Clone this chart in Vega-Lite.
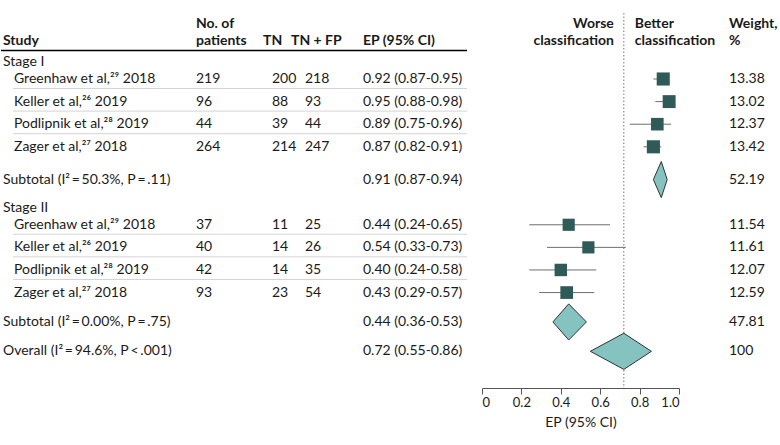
{
  "$schema": "https://vega.github.io/schema/vega-lite/v6.json",
  "padding": 0,
  "background": "white",
  "spacing": 0,
  "bounds": "flush",
  "config": {
    "view": {"stroke": null},
    "font": "Lato",
    "text": {"fontSize": 14, "color": "#1a1a1a"},
    "axis": {"domainColor": "#555", "tickColor": "#555", "tickSize": 6, "labelFontSize": 13, "labelColor": "#1a1a1a", "labelPadding": 2, "titleFontSize": 14, "titleFontWeight": "normal", "titleColor": "#1a1a1a", "titlePadding": 6, "labelFont": "Lato", "titleFont": "Lato", "grid": false}
  },
  "datasets": {
    "rows": [
      {"kind": "header", "row": -1.35, "label": "Study", "n": "No. of\npatients", "tn": "TN", "tnfp": "TN + FP", "ci": "EP (95% CI)", "wt": "Weight,\n%"},
      {"kind": "stage", "row": -0.75, "label": "Stage I"},
      {"kind": "study", "row": 0, "label": "Greenhaw et al,²⁹ 2018", "n": "219", "tn": "200", "tnfp": "218", "est": 0.92, "lo": 0.87, "hi": 0.95, "ci": "0.92 (0.87-0.95)", "weight": 13.38},
      {"kind": "study", "row": 1, "label": "Keller et al,²⁶ 2019", "n": "96", "tn": "88", "tnfp": "93", "est": 0.95, "lo": 0.88, "hi": 0.98, "ci": "0.95 (0.88-0.98)", "weight": 13.02},
      {"kind": "study", "row": 2, "label": "Podlipnik et al,²⁸ 2019", "n": "44", "tn": "39", "tnfp": "44", "est": 0.89, "lo": 0.75, "hi": 0.96, "ci": "0.89 (0.75-0.96)", "weight": 12.37},
      {"kind": "study", "row": 3, "label": "Zager et al,²⁷ 2018", "n": "264", "tn": "214", "tnfp": "247", "est": 0.87, "lo": 0.82, "hi": 0.91, "ci": "0.87 (0.82-0.91)", "weight": 13.42},
      {"kind": "subtotal", "row": 4.45, "label": "Subtotal (I²\u2009=\u200950.3%, P\u2009=\u2009.11)", "est": 0.91, "lo": 0.87, "hi": 0.94, "ci": "0.91 (0.87-0.94)", "weight": 52.19},
      {"kind": "stage", "row": 5.7, "label": "Stage II"},
      {"kind": "study", "row": 6.45, "label": "Greenhaw et al,²⁹ 2018", "n": "37", "tn": "11", "tnfp": "25", "est": 0.44, "lo": 0.24, "hi": 0.65, "ci": "0.44 (0.24-0.65)", "weight": 11.54},
      {"kind": "study", "row": 7.45, "label": "Keller et al,²⁶ 2019", "n": "40", "tn": "14", "tnfp": "26", "est": 0.54, "lo": 0.33, "hi": 0.73, "ci": "0.54 (0.33-0.73)", "weight": 11.61},
      {"kind": "study", "row": 8.45, "label": "Podlipnik et al,²⁸ 2019", "n": "42", "tn": "14", "tnfp": "35", "est": 0.40, "lo": 0.24, "hi": 0.58, "ci": "0.40 (0.24-0.58)", "weight": 12.07},
      {"kind": "study", "row": 9.45, "label": "Zager et al,²⁷ 2018", "n": "93", "tn": "23", "tnfp": "54", "est": 0.43, "lo": 0.29, "hi": 0.57, "ci": "0.43 (0.29-0.57)", "weight": 12.59},
      {"kind": "subtotal", "row": 10.75, "label": "Subtotal (I²\u2009=\u20090.00%, P\u2009=\u2009.75)", "est": 0.44, "lo": 0.36, "hi": 0.53, "ci": "0.44 (0.36-0.53)", "weight": 47.81},
      {"kind": "overall", "row": 12.05, "label": "Overall (I²\u2009=\u200994.6%, P\u2009<\u2009.001)", "est": 0.72, "lo": 0.55, "hi": 0.86, "ci": "0.72 (0.55-0.86)", "weight": 100}
    ],
    "dia": [
      {"label": "Subtotal I", "x": 0.87, "top": 4.45, "bot": 4.45},
      {"label": "Subtotal I", "x": 0.91, "top": 3.65, "bot": 5.25},
      {"label": "Subtotal I", "x": 0.94, "top": 4.45, "bot": 4.45},
      {"label": "Subtotal II", "x": 0.36, "top": 10.75, "bot": 10.75},
      {"label": "Subtotal II", "x": 0.44, "top": 9.95, "bot": 11.55},
      {"label": "Subtotal II", "x": 0.53, "top": 10.75, "bot": 10.75},
      {"label": "Overall", "x": 0.55, "top": 12.05, "bot": 12.05},
      {"label": "Overall", "x": 0.72, "top": 11.25, "bot": 12.85},
      {"label": "Overall", "x": 0.86, "top": 12.05, "bot": 12.05}
    ]
  },
  "hconcat": [
    {
      "width": 12, "height": 388,
      "data": {"name": "rows"},
      "encoding": {"y": {"field": "row", "type": "quantitative", "scale": {"domain": [-3.496, 13.673], "reverse": true, "nice": false, "zero": false}, "axis": null}},
      "layer": [
        {"transform": [{"filter": "datum.kind=='header'"}], "mark": {"type": "text", "align": "left", "baseline": "bottom", "fontWeight": "bold", "dx": 2},
         "encoding": {"x": {"datum": 0, "type": "quantitative", "scale": {"domain": [0, 1], "nice": false, "zero": false}, "axis": null}, "text": {"field": "label", "type": "nominal"}}},
        {"transform": [{"filter": "datum.kind=='stage' || datum.kind=='subtotal' || datum.kind=='overall'"}], "mark": {"type": "text", "align": "left", "baseline": "middle", "dx": 2},
         "encoding": {"x": {"datum": 0, "type": "quantitative", "scale": {"domain": [0, 1], "nice": false, "zero": false}, "axis": null}, "text": {"field": "label", "type": "nominal"}}},
        {"transform": [{"filter": "datum.kind=='header'"}], "mark": {"type": "rule", "color": "#000", "strokeWidth": 1.5, "yOffset": 2}, "encoding": {}}
      ]
    },
    {
      "width": 183, "height": 388,
      "data": {"name": "rows"},
      "encoding": {"y": {"field": "row", "type": "quantitative", "scale": {"domain": [-3.496, 13.673], "reverse": true, "nice": false, "zero": false}, "axis": null}},
      "layer": [
        {"transform": [{"filter": "datum.kind=='study'"}], "mark": {"type": "text", "align": "left", "baseline": "middle", "dx": 1},
         "encoding": {"x": {"datum": 0, "type": "quantitative", "scale": {"domain": [0, 1], "nice": false, "zero": false}, "axis": null}, "text": {"field": "label", "type": "nominal"}}},
        {"transform": [{"filter": "datum.kind=='header'"}], "mark": {"type": "rule", "color": "#000", "strokeWidth": 1.5, "yOffset": 2}, "encoding": {}},
        {"transform": [{"filter": "datum.kind=='study' && indexof(datum.label,'Zager')<0"}], "mark": {"type": "rule", "color": "#d4d4d4", "strokeWidth": 1, "yOffset": 9.5}, "encoding": {}}
      ]
    },
    {
      "width": 76, "height": 388,
      "data": {"name": "rows"},
      "encoding": {"y": {"field": "row", "type": "quantitative", "scale": {"domain": [-3.496, 13.673], "reverse": true, "nice": false, "zero": false}, "axis": null}},
      "layer": [
        {"transform": [{"filter": "datum.kind=='header'"}], "mark": {"type": "text", "align": "left", "baseline": "bottom", "fontWeight": "bold", "lineBreak": "\n", "lineHeight": 17.5, "dy": -17.5},
         "encoding": {"x": {"datum": 0, "type": "quantitative", "scale": {"domain": [0, 1], "nice": false, "zero": false}, "axis": null}, "text": {"field": "n", "type": "nominal"}}},
        {"transform": [{"filter": "datum.kind=='study'"}], "mark": {"type": "text", "align": "left", "baseline": "middle"},
         "encoding": {"x": {"datum": 0, "type": "quantitative", "scale": {"domain": [0, 1], "nice": false, "zero": false}, "axis": null}, "text": {"field": "n", "type": "nominal"}}},
        {"transform": [{"filter": "datum.kind=='header'"}], "mark": {"type": "rule", "color": "#000", "strokeWidth": 1.5, "yOffset": 2}, "encoding": {}},
        {"transform": [{"filter": "datum.kind=='study' && indexof(datum.label,'Zager')<0"}], "mark": {"type": "rule", "color": "#d4d4d4", "strokeWidth": 1, "yOffset": 9.5}, "encoding": {}}
      ]
    },
    {
      "width": 33, "height": 388,
      "data": {"name": "rows"},
      "encoding": {"y": {"field": "row", "type": "quantitative", "scale": {"domain": [-3.496, 13.673], "reverse": true, "nice": false, "zero": false}, "axis": null}},
      "layer": [
        {"transform": [{"filter": "datum.kind=='header'"}], "mark": {"type": "text", "align": "left", "baseline": "bottom", "fontWeight": "bold", "dx": -9},
         "encoding": {"x": {"datum": 0, "type": "quantitative", "scale": {"domain": [0, 1], "nice": false, "zero": false}, "axis": null}, "text": {"field": "tn", "type": "nominal"}}},
        {"transform": [{"filter": "datum.kind=='study'"}], "mark": {"type": "text", "align": "left", "baseline": "middle"},
         "encoding": {"x": {"datum": 0, "type": "quantitative", "scale": {"domain": [0, 1], "nice": false, "zero": false}, "axis": null}, "text": {"field": "tn", "type": "nominal"}}},
        {"transform": [{"filter": "datum.kind=='header'"}], "mark": {"type": "rule", "color": "#000", "strokeWidth": 1.5, "yOffset": 2}, "encoding": {}},
        {"transform": [{"filter": "datum.kind=='study' && indexof(datum.label,'Zager')<0"}], "mark": {"type": "rule", "color": "#d4d4d4", "strokeWidth": 1, "yOffset": 9.5}, "encoding": {}}
      ]
    },
    {
      "width": 58, "height": 388,
      "data": {"name": "rows"},
      "encoding": {"y": {"field": "row", "type": "quantitative", "scale": {"domain": [-3.496, 13.673], "reverse": true, "nice": false, "zero": false}, "axis": null}},
      "layer": [
        {"transform": [{"filter": "datum.kind=='header'"}], "mark": {"type": "text", "align": "left", "baseline": "bottom", "fontWeight": "bold", "dx": -14},
         "encoding": {"x": {"datum": 0, "type": "quantitative", "scale": {"domain": [0, 1], "nice": false, "zero": false}, "axis": null}, "text": {"field": "tnfp", "type": "nominal"}}},
        {"transform": [{"filter": "datum.kind=='study'"}], "mark": {"type": "text", "align": "left", "baseline": "middle"},
         "encoding": {"x": {"datum": 0, "type": "quantitative", "scale": {"domain": [0, 1], "nice": false, "zero": false}, "axis": null}, "text": {"field": "tnfp", "type": "nominal"}}},
        {"transform": [{"filter": "datum.kind=='header'"}], "mark": {"type": "rule", "color": "#000", "strokeWidth": 1.5, "yOffset": 2}, "encoding": {}},
        {"transform": [{"filter": "datum.kind=='study' && indexof(datum.label,'Zager')<0"}], "mark": {"type": "rule", "color": "#d4d4d4", "strokeWidth": 1, "yOffset": 9.5}, "encoding": {}}
      ]
    },
    {
      "width": 104, "height": 388,
      "data": {"name": "rows"},
      "encoding": {"y": {"field": "row", "type": "quantitative", "scale": {"domain": [-3.496, 13.673], "reverse": true, "nice": false, "zero": false}, "axis": null}},
      "layer": [
        {"transform": [{"filter": "datum.kind=='header'"}], "mark": {"type": "text", "align": "left", "baseline": "bottom", "fontWeight": "bold"},
         "encoding": {"x": {"datum": 0, "type": "quantitative", "scale": {"domain": [0, 1], "nice": false, "zero": false}, "axis": null}, "text": {"field": "ci", "type": "nominal"}}},
        {"transform": [{"filter": "datum.kind=='study' || datum.kind=='subtotal' || datum.kind=='overall'"}], "mark": {"type": "text", "align": "left", "baseline": "middle"},
         "encoding": {"x": {"datum": 0, "type": "quantitative", "scale": {"domain": [0, 1], "nice": false, "zero": false}, "axis": null}, "text": {"field": "ci", "type": "nominal"}}},
        {"transform": [{"filter": "datum.kind=='header'"}], "mark": {"type": "rule", "color": "#000", "strokeWidth": 1.5, "yOffset": 2}, "encoding": {}},
        {"transform": [{"filter": "datum.kind=='study' && indexof(datum.label,'Zager')<0"}], "mark": {"type": "rule", "color": "#d4d4d4", "strokeWidth": 1, "yOffset": 9.5}, "encoding": {}}
      ]
    },
    {
      "width": 15, "height": 388,
      "data": {"values": [{"z": 0}]},
      "mark": {"type": "point", "opacity": 0},
      "encoding": {}
    },
    {
      "width": 197, "height": 388,
      "data": {"name": "rows"},
      "layer": [
        {"transform": [{"filter": "datum.kind=='overall'"}],
         "mark": {"type": "rule", "color": "#777", "strokeDash": [1.5, 2], "strokeWidth": 1},
         "encoding": {
           "x": {"field": "est", "type": "quantitative", "scale": {"domain": [0, 1], "nice": false, "zero": false}, "title": "EP (95% CI)", "axis": {"values": [0, 0.2, 0.4, 0.6, 0.8, 1], "labelExpr": "datum.value==0 ? '0' : format(datum.value, '.1f')"}},
           "y": {"datum": -2.92, "type": "quantitative", "scale": {"domain": [-3.496, 13.673], "reverse": true, "nice": false, "zero": false}, "axis": null},
           "y2": {"datum": 13.673}}},
        {"transform": [{"filter": "datum.kind=='study'"}],
         "mark": {"type": "rule", "color": "#6e6e6e", "strokeWidth": 1},
         "encoding": {
           "x": {"field": "lo", "type": "quantitative", "scale": {"domain": [0, 1], "nice": false, "zero": false}, "title": "EP (95% CI)", "axis": {"values": [0, 0.2, 0.4, 0.6, 0.8, 1], "labelExpr": "datum.value==0 ? '0' : format(datum.value, '.1f')"}},
           "x2": {"field": "hi"},
           "y": {"field": "row", "type": "quantitative", "scale": {"domain": [-3.496, 13.673], "reverse": true, "nice": false, "zero": false}, "axis": null}}},
        {"transform": [{"filter": "datum.kind=='study'"}],
         "mark": {"type": "square", "color": "#2e5b58", "opacity": 1, "strokeWidth": 0},
         "encoding": {
           "x": {"field": "est", "type": "quantitative", "scale": {"domain": [0, 1], "nice": false, "zero": false}, "title": "EP (95% CI)", "axis": {"values": [0, 0.2, 0.4, 0.6, 0.8, 1], "labelExpr": "datum.value==0 ? '0' : format(datum.value, '.1f')"}},
           "y": {"field": "row", "type": "quantitative", "scale": {"domain": [-3.496, 13.673], "reverse": true, "nice": false, "zero": false}, "axis": null},
           "size": {"field": "weight", "type": "quantitative", "scale": {"domain": [0, 13.42], "range": [0, 172]}, "legend": null}}},
        {"data": {"name": "dia"},
         "mark": {"type": "area", "orient": "vertical", "fill": "#84c3c0", "stroke": "#333", "strokeWidth": 1, "strokeJoin": "miter", "opacity": 1, "fillOpacity": 1},
         "encoding": {
           "x": {"field": "x", "type": "quantitative", "scale": {"domain": [0, 1], "nice": false, "zero": false}, "title": "EP (95% CI)", "axis": {"values": [0, 0.2, 0.4, 0.6, 0.8, 1], "labelExpr": "datum.value==0 ? '0' : format(datum.value, '.1f')"}},
           "y": {"field": "top", "type": "quantitative", "scale": {"domain": [-3.496, 13.673], "reverse": true, "nice": false, "zero": false}, "axis": null},
           "y2": {"field": "bot"},
           "detail": {"field": "label", "type": "nominal"}}},
        {"transform": [{"filter": "datum.kind=='overall'"}],
         "mark": {"type": "text", "align": "right", "baseline": "bottom", "fontWeight": "bold", "dx": -10, "lineBreak": "\n", "lineHeight": 17.5, "dy": -17.5},
         "encoding": {
           "x": {"field": "est", "type": "quantitative", "scale": {"domain": [0, 1], "nice": false, "zero": false}, "title": "EP (95% CI)", "axis": {"values": [0, 0.2, 0.4, 0.6, 0.8, 1], "labelExpr": "datum.value==0 ? '0' : format(datum.value, '.1f')"}},
           "y": {"datum": -1.35, "type": "quantitative", "scale": {"domain": [-3.496, 13.673], "reverse": true, "nice": false, "zero": false}, "axis": null},
           "text": {"value": "Worse\nclassification"}}},
        {"transform": [{"filter": "datum.kind=='overall'"}],
         "mark": {"type": "text", "align": "left", "baseline": "bottom", "fontWeight": "bold", "dx": 11, "lineBreak": "\n", "lineHeight": 17.5, "dy": -17.5},
         "encoding": {
           "x": {"field": "est", "type": "quantitative", "scale": {"domain": [0, 1], "nice": false, "zero": false}, "title": "EP (95% CI)", "axis": {"values": [0, 0.2, 0.4, 0.6, 0.8, 1], "labelExpr": "datum.value==0 ? '0' : format(datum.value, '.1f')"}},
           "y": {"datum": -1.35, "type": "quantitative", "scale": {"domain": [-3.496, 13.673], "reverse": true, "nice": false, "zero": false}, "axis": null},
           "text": {"value": "Better\nclassification"}}}
      ]
    },
    {
      "width": 50, "height": 388,
      "data": {"values": [{"z": 0}]},
      "mark": {"type": "point", "opacity": 0},
      "encoding": {}
    },
    {
      "width": 52, "height": 388,
      "data": {"name": "rows"},
      "encoding": {"y": {"field": "row", "type": "quantitative", "scale": {"domain": [-3.496, 13.673], "reverse": true, "nice": false, "zero": false}, "axis": null}},
      "layer": [
        {"transform": [{"filter": "datum.kind=='header'"}], "mark": {"type": "text", "align": "left", "baseline": "bottom", "fontWeight": "bold", "lineBreak": "\n", "lineHeight": 17.5, "dy": -17.5},
         "encoding": {"x": {"datum": 0, "type": "quantitative", "scale": {"domain": [0, 1], "nice": false, "zero": false}, "axis": null}, "text": {"field": "wt", "type": "nominal"}}},
        {"transform": [{"filter": "datum.kind=='study' || datum.kind=='subtotal' || datum.kind=='overall'"}], "mark": {"type": "text", "align": "left", "baseline": "middle"},
         "encoding": {"x": {"datum": 0, "type": "quantitative", "scale": {"domain": [0, 1], "nice": false, "zero": false}, "axis": null}, "text": {"field": "weight", "type": "nominal"}}}
      ]
    }
  ]
}
